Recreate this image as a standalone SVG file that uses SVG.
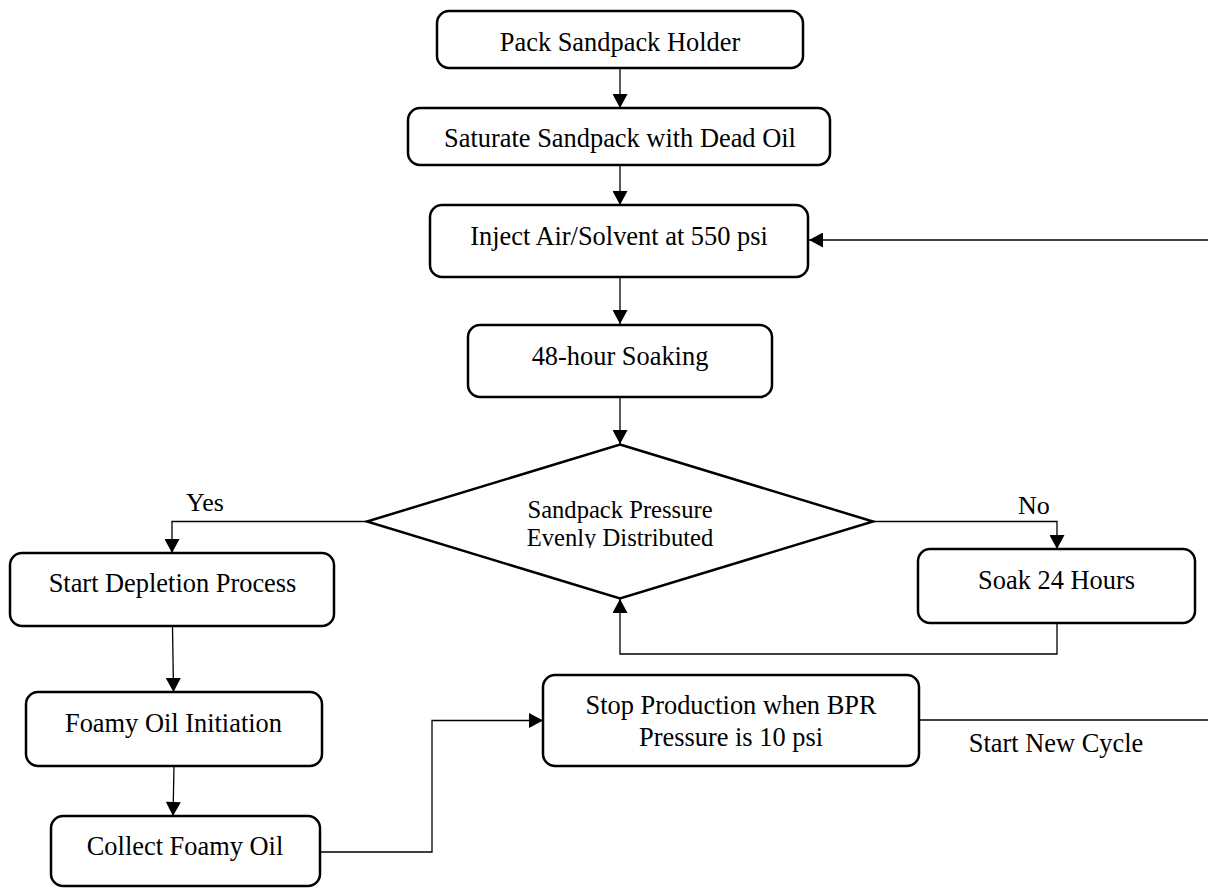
<svg xmlns="http://www.w3.org/2000/svg" width="1208" height="888" viewBox="0 0 1208 888">
  <style>
    .box { fill: #ffffff; stroke: #000000; stroke-width: 2.5; }
    .dia { fill: #ffffff; stroke: #000000; stroke-width: 2.5; }
    .lbl { font-family: "Liberation Serif", "Times New Roman", serif; font-size: 26.4px; fill: #000000; text-anchor: middle; }
    .dlbl { font-family: "Liberation Serif", "Times New Roman", serif; font-size: 24.6px; fill: #000000; text-anchor: middle; }
    .elbl { font-family: "Liberation Serif", "Times New Roman", serif; font-size: 26px; fill: #000000; }
    .conn { fill: none; stroke: #000000; stroke-width: 1.3; }
  </style>
  <defs>
    <marker id="arrow" markerUnits="userSpaceOnUse" markerWidth="15" markerHeight="15" viewBox="0 0 14 15" refX="14" refY="7.5" orient="auto">
      <path d="M0,0 L14,7.5 L0,15 z" fill="#000000"/>
    </marker>
    <clipPath id="diaclip">
      <rect x="0" y="0" width="1208" height="548"/>
    </clipPath>
  </defs>
  <rect width="1208" height="888" fill="#ffffff"/>

  <g id="connectors">
    <path class="conn" d="M620,68 L620,108" marker-end="url(#arrow)"/>
    <path class="conn" d="M620,165 L620,205" marker-end="url(#arrow)"/>
    <path class="conn" d="M1210,240 L809,240" marker-end="url(#arrow)"/>
    <path class="conn" d="M620,277 L620,324" marker-end="url(#arrow)"/>
    <path class="conn" d="M620,397 L620,444" marker-end="url(#arrow)"/>
    <path class="conn" d="M367,521.5 L172,521.5 L172,553" marker-end="url(#arrow)"/>
    <path class="conn" d="M873,521.5 L1057,521.5 L1057,549" marker-end="url(#arrow)"/>
    <path class="conn" d="M1057,623 L1057,654 L620,654 L620,599" marker-end="url(#arrow)"/>
    <path class="conn" d="M172.5,626 L173.5,692" marker-end="url(#arrow)"/>
    <path class="conn" d="M174,766 L173,816" marker-end="url(#arrow)"/>
    <path class="conn" d="M320,852 L432,852 L432,720.5 L543,720.5" marker-end="url(#arrow)"/>
    <path class="conn" d="M919,720 L1210,720"/>
    <text class="elbl" x="186" y="511">Yes</text>
    <text class="elbl" x="1018" y="514">No</text>
    <text class="lbl" x="1056" y="752">Start New Cycle</text>
  </g>

  <g id="node-pack">
    <rect class="box" x="437" y="11" width="366" height="57" rx="12" ry="12"/>
    <text class="lbl" x="620" y="51">Pack Sandpack Holder</text>
  </g>
  <g id="node-saturate">
    <rect class="box" x="408" y="108" width="422" height="57" rx="12" ry="12"/>
    <text class="lbl" x="620" y="147">Saturate Sandpack with Dead Oil</text>
  </g>
  <g id="node-inject">
    <rect class="box" x="430" y="205" width="378" height="72" rx="12" ry="12"/>
    <text class="lbl" x="619" y="245">Inject Air/Solvent at 550 psi</text>
  </g>
  <g id="node-soak48">
    <rect class="box" x="468" y="325" width="304" height="72" rx="12" ry="12"/>
    <text class="lbl" x="620" y="365">48-hour Soaking</text>
  </g>
  <g id="node-decision">
    <polygon class="dia" points="620,444.5 873,521.5 620,598.5 367,521.5"/>
    <g clip-path="url(#diaclip)">
      <text class="dlbl" x="620" y="518">Sandpack Pressure</text>
      <text class="dlbl" x="620" y="546">Evenly Distributed</text>
    </g>
  </g>
  <g id="node-soak24">
    <rect class="box" x="918" y="549" width="277" height="74" rx="12" ry="12"/>
    <text class="lbl" x="1056.5" y="589">Soak 24 Hours</text>
  </g>
  <g id="node-depletion">
    <rect class="box" x="10" y="553" width="324" height="73" rx="12" ry="12"/>
    <text class="lbl" x="172.5" y="592">Start Depletion Process</text>
  </g>
  <g id="node-foamy">
    <rect class="box" x="26" y="692" width="296" height="74" rx="12" ry="12"/>
    <text class="lbl" x="173.5" y="732">Foamy Oil Initiation</text>
  </g>
  <g id="node-collect">
    <rect class="box" x="51" y="816" width="269" height="70" rx="12" ry="12"/>
    <text class="lbl" x="185" y="855">Collect Foamy Oil</text>
  </g>
  <g id="node-stop">
    <rect class="box" x="543" y="675" width="376" height="91" rx="12" ry="12"/>
    <text class="lbl" x="731" y="714">Stop Production when BPR</text>
    <text class="lbl" x="731" y="746">Pressure is 10 psi</text>
  </g>
</svg>
